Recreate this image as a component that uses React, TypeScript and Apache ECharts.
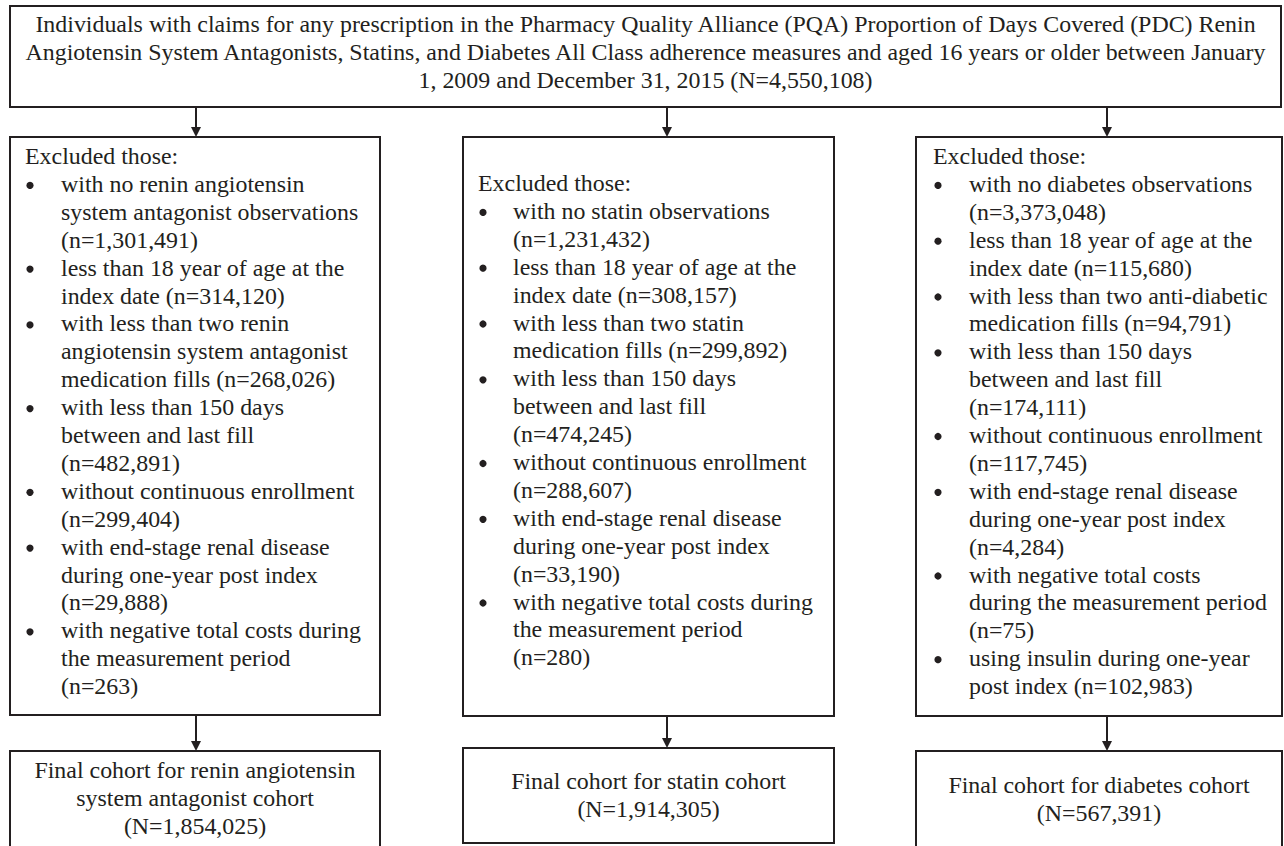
import React, { useEffect, useRef } from "react";
import * as echarts from "echarts";

// ---- Data (texts of the flowchart) ----
const topLines: string[] = [
  "Individuals with claims for any prescription in the Pharmacy Quality Alliance (PQA) Proportion of Days Covered (PDC) Renin",
  "Angiotensin System Antagonists, Statins, and Diabetes All Class adherence measures and aged 16 years or older between January",
  "1, 2009 and December 31, 2015 (N=4,550,108)",
];

const exclusionHeader = "Excluded those:";

const rasExclusions: string[][] = [
  ["with no renin angiotensin", "system antagonist observations", "(n=1,301,491)"],
  ["less than 18 year of age at the", "index date (n=314,120)"],
  ["with less than two renin", "angiotensin system antagonist", "medication fills (n=268,026)"],
  ["with less than 150 days", "between and last fill", "(n=482,891)"],
  ["without continuous enrollment", "(n=299,404)"],
  ["with end-stage renal disease", "during one-year post index", "(n=29,888)"],
  ["with negative total costs during", "the measurement period", "(n=263)"],
];

const statinExclusions: string[][] = [
  ["with no statin observations", "(n=1,231,432)"],
  ["less than 18 year of age at the", "index date (n=308,157)"],
  ["with less than two statin", "medication fills (n=299,892)"],
  ["with less than 150 days", "between and last fill", "(n=474,245)"],
  ["without continuous enrollment", "(n=288,607)"],
  ["with end-stage renal disease", "during one-year post index", "(n=33,190)"],
  ["with negative total costs during", "the measurement period", "(n=280)"],
];

const diabetesExclusions: string[][] = [
  ["with no diabetes observations", "(n=3,373,048)"],
  ["less than 18 year of age at the", "index date (n=115,680)"],
  ["with less than two anti-diabetic", "medication fills (n=94,791)"],
  ["with less than 150 days", "between and last fill", "(n=174,111)"],
  ["without continuous enrollment", "(n=117,745)"],
  ["with end-stage renal disease", "during one-year post index", "(n=4,284)"],
  ["with negative total costs", "during the measurement period", "(n=75)"],
  ["using insulin during one-year", "post index (n=102,983)"],
];

const rasFinal: string[] = ["Final cohort for renin angiotensin", "system antagonist cohort", "(N=1,854,025)"];
const statinFinal: string[] = ["Final cohort for statin cohort", "(N=1,914,305)"];
const diabetesFinal: string[] = ["Final cohort for diabetes cohort", "(N=567,391)"];

// ---- Layout / style ----
const FONT = "'Liberation Serif', 'Times New Roman', serif";
const FS = 23.9;
const LH = 27.9;
const INK = "#231f20";
const CENTRAL = 8; // baseline -> central offset

type Col = {
  x0: number; x1: number; top: number; bottom: number;
  headerBase: number; hx: number; bx: number; tx: number;
  arrowX: number; fTop: number; fBottom: number; fBase: number;
  items: string[][]; final: string[];
};

const columns: Col[] = [
  { x0: 10, x1: 380, top: 137, bottom: 715, headerBase: 164, hx: 15, bx: 20, tx: 51,
    arrowX: 196, fTop: 751, fBottom: 852, fBase: 778, items: rasExclusions, final: rasFinal },
  { x0: 463, x1: 834, top: 137, bottom: 716, headerBase: 191, hx: 15, bx: 20, tx: 50,
    arrowX: 667, fTop: 748, fBottom: 843, fBase: 789, items: statinExclusions, final: statinFinal },
  { x0: 916, x1: 1282, top: 137, bottom: 716, headerBase: 164, hx: 17, bx: 22, tx: 53,
    arrowX: 1107, fTop: 751, fBottom: 852, fBase: 793, items: diabetesExclusions, final: diabetesFinal },
];

function txt(text: string, x: number, baseline: number, align: string = "left") {
  return {
    type: "text",
    x,
    y: baseline - CENTRAL,
    silent: true,
    style: {
      text,
      fill: INK,
      font: `${FS}px ${FONT}`,
      fontFamily: FONT,
      fontSize: FS,
      align,
      verticalAlign: "middle",
    },
  };
}

function box(x0: number, y0: number, x1: number, y1: number) {
  return {
    type: "rect",
    silent: true,
    shape: { x: x0, y: y0, width: x1 - x0, height: y1 - y0 },
    style: { fill: "#fff", stroke: INK, lineWidth: 2 },
  };
}

function arrow(x: number, y0: number, y1: number) {
  return [
    {
      type: "line",
      silent: true,
      shape: { x1: x, y1: y0, x2: x, y2: y1 - 9 },
      style: { stroke: INK, lineWidth: 2 },
    },
    {
      type: "polygon",
      silent: true,
      shape: { points: [[x - 5, y1 - 10], [x + 5, y1 - 10], [x, y1]] },
      style: { fill: INK },
    },
  ];
}

function buildGraphics() {
  const els: any[] = [];
  // top box
  els.push(box(10, 6, 1281, 107));
  const topCenter = (10 + 1281) / 2;
  topLines.forEach((l, i) => els.push(txt(l, topCenter, 32 + i * LH, "center")));

  columns.forEach((c) => {
    els.push(...arrow(c.arrowX, 107, c.top));
    els.push(box(c.x0, c.top, c.x1, c.bottom));
    els.push(txt(exclusionHeader, c.x0 + c.hx, c.headerBase));
    let line = 1;
    c.items.forEach((item) => {
      const base = c.headerBase + line * LH;
      els.push({
        type: "circle",
        silent: true,
        shape: { cx: c.x0 + c.bx, cy: base - 6.5, r: 3.6 },
        style: { fill: INK },
      });
      item.forEach((l, k) => els.push(txt(l, c.x0 + c.tx, c.headerBase + (line + k) * LH)));
      line += item.length;
    });
    els.push(...arrow(c.arrowX, c.bottom, c.fTop));
    els.push(box(c.x0, c.fTop, c.x1, c.fBottom));
    const cx = (c.x0 + c.x1) / 2;
    c.final.forEach((l, i) => els.push(txt(l, cx, c.fBase + i * LH, "center")));
  });
  return els;
}

export default function App() {
  const ref = useRef<HTMLDivElement>(null);
  useEffect(() => {
    document.body.style.margin = "0";
    if (!ref.current) return;
    const chart = echarts.init(ref.current, null, { renderer: "svg" });
    chart.setOption({
      animation: false,
      backgroundColor: "#ffffff",
      graphic: { elements: buildGraphics() },
    });
    return () => chart.dispose();
  }, []);
  return <div ref={ref} style={{ width: 1284, height: 846 }} />;
}
